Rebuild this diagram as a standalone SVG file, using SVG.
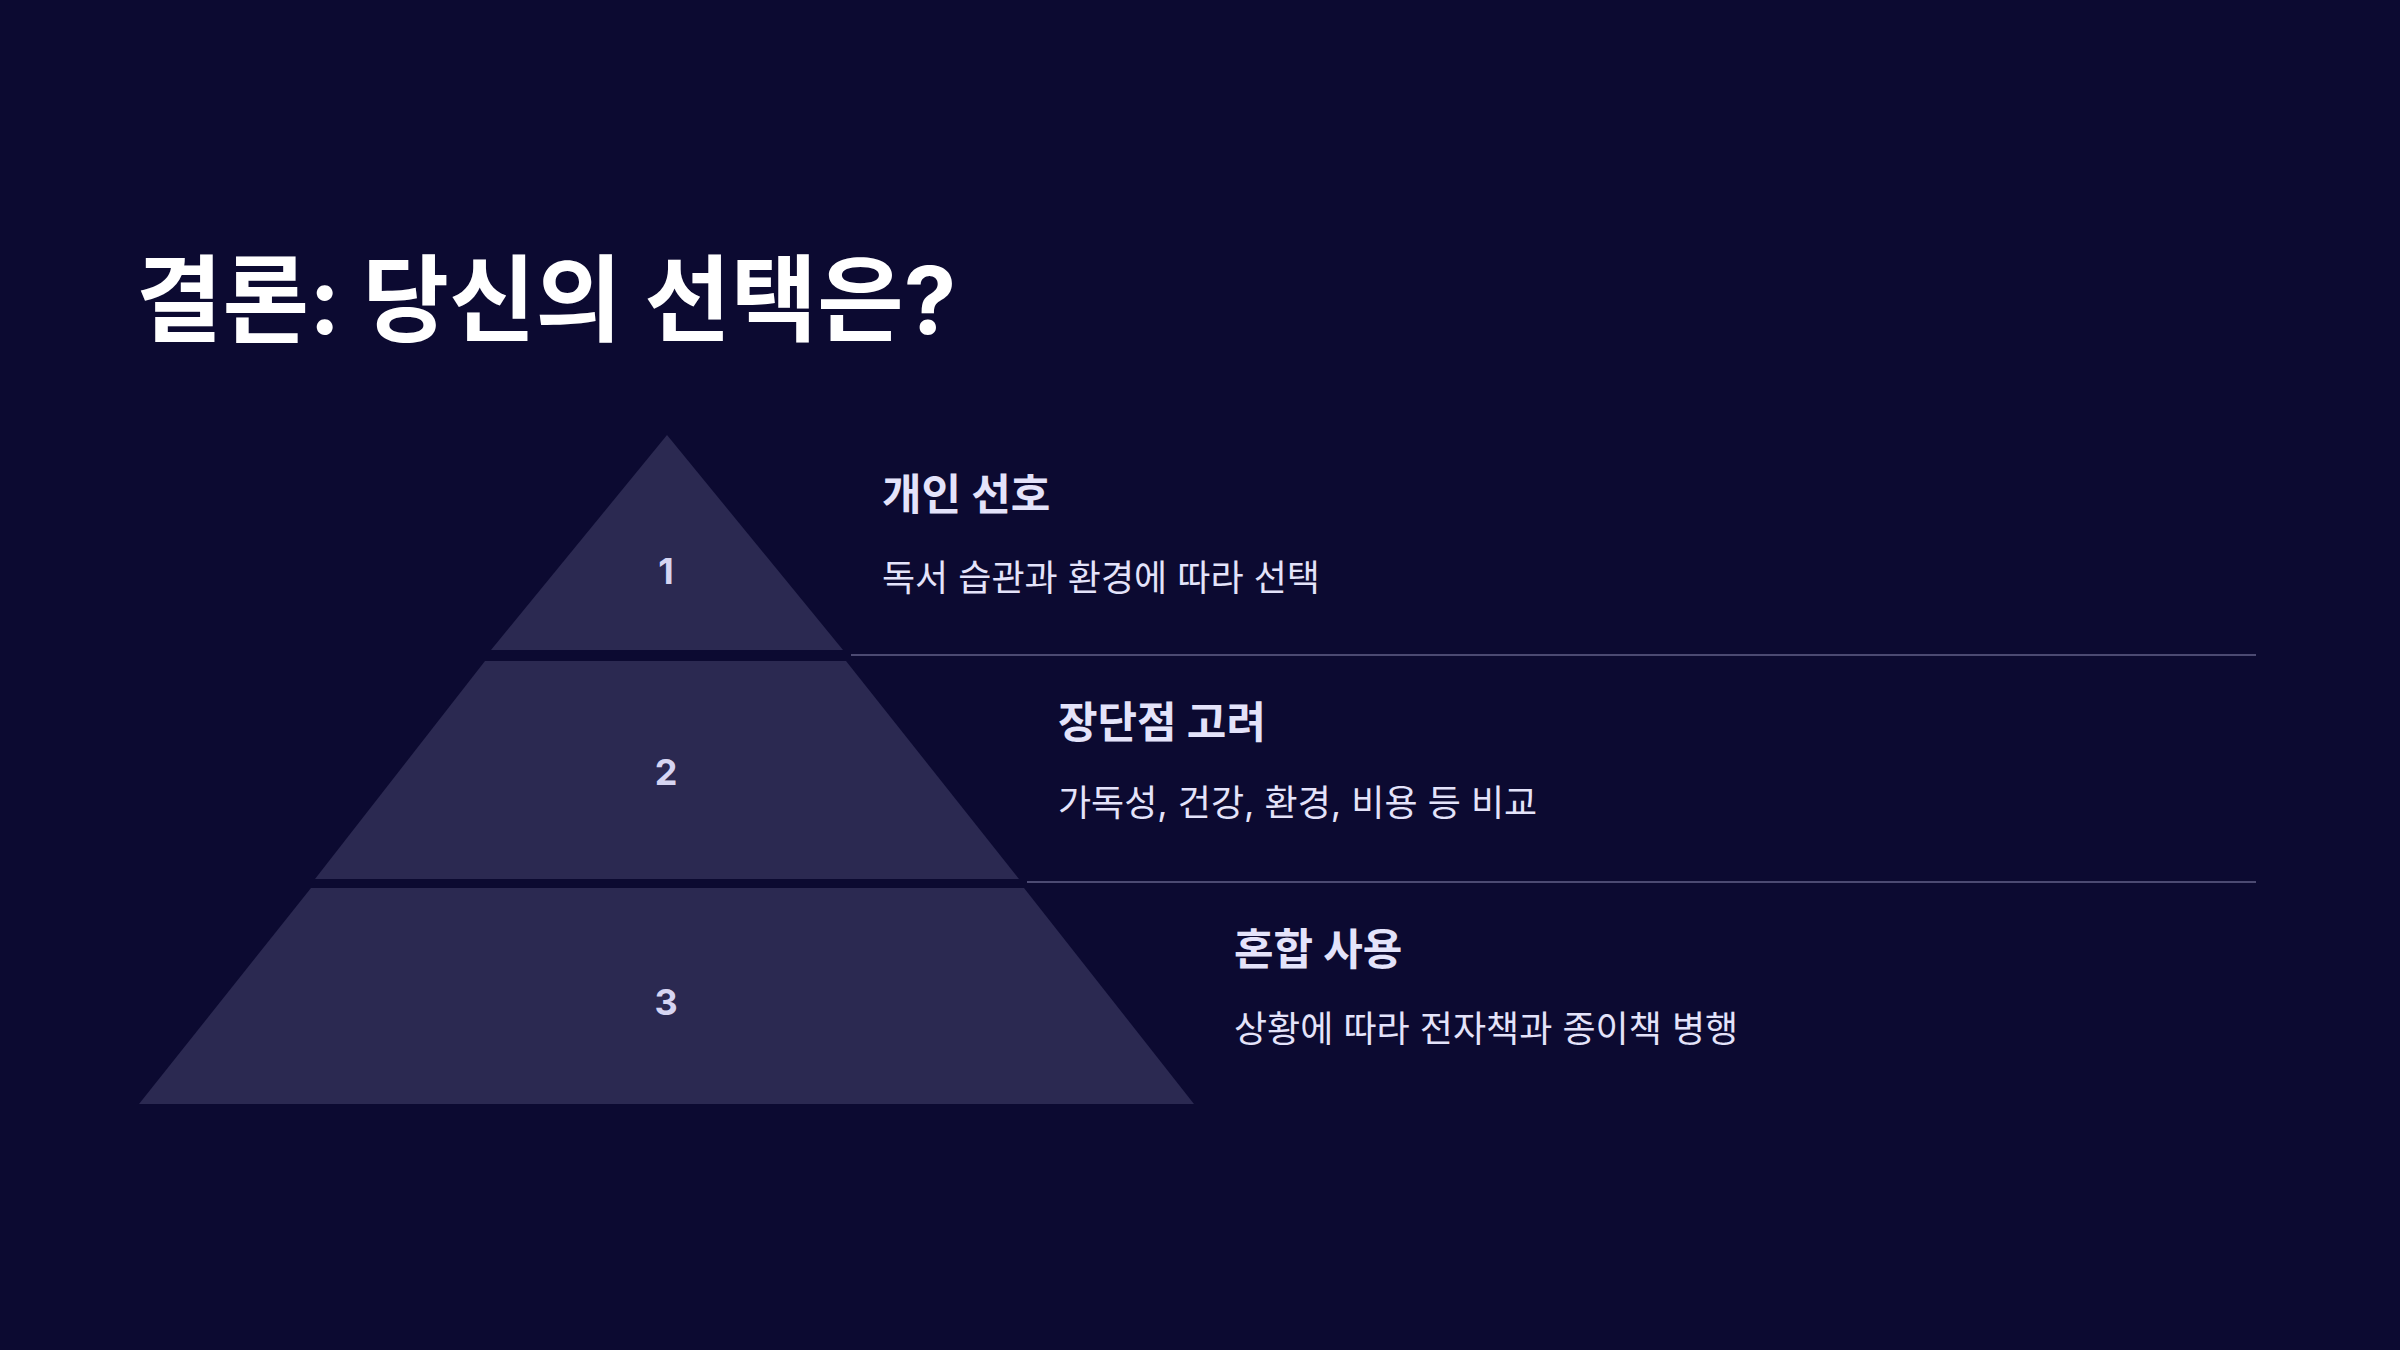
<svg xmlns="http://www.w3.org/2000/svg" width="2400" height="1350" viewBox="0 0 2400 1350">
<style>
.t{font-family:"Inter","Noto Sans CJK KR",sans-serif}
.tier{fill:#2b2951}
.num{font-family:"Inter","Noto Sans CJK KR",sans-serif;font-size:36px;font-weight:700;fill:#d6d5f2;text-anchor:middle}
.h{font-family:"Inter","Noto Sans CJK KR",sans-serif;font-size:43px;font-weight:700;fill:#e4e3fa}
.d{font-family:"Inter","Noto Sans CJK KR",sans-serif;font-size:36px;fill:#e4e3fa}
.ln{stroke:#4c4a72;stroke-width:2}
</style>
<rect width="2400" height="1350" fill="#0c0a31"/>
<text class="t" x="136" y="334" font-size="94" font-weight="700" fill="#ffffff">결론: 당신의 선택은?</text>
<g id="connectors">
<line class="ln" x1="851" y1="655" x2="2256" y2="655"/>
<line class="ln" x1="1027" y1="882" x2="2256" y2="882"/>
</g>
<g id="tier1">
<polygon class="tier" points="667,435 843,650 491,650"/>
<text class="num" x="666" y="584">1</text>
<text class="h" x="882" y="510">개인 선호</text>
<text class="d" x="882" y="591">독서 습관과 환경에 따라 선택</text>
</g>
<g id="tier2">
<polygon class="tier" points="485,661 846,661 1019,879 315,879"/>
<text class="num" x="666" y="785">2</text>
<text class="h" x="1058" y="738">장단점 고려</text>
<text class="d" x="1058" y="816">가독성, 건강, 환경, 비용 등 비교</text>
</g>
<g id="tier3">
<polygon class="tier" points="311,888 1024,888 1194,1104 139,1104"/>
<text class="num" x="666" y="1015">3</text>
<text class="h" x="1234" y="965">혼합 사용</text>
<text class="d" x="1234" y="1042">상황에 따라 전자책과 종이책 병행</text>
</g>
</svg>
